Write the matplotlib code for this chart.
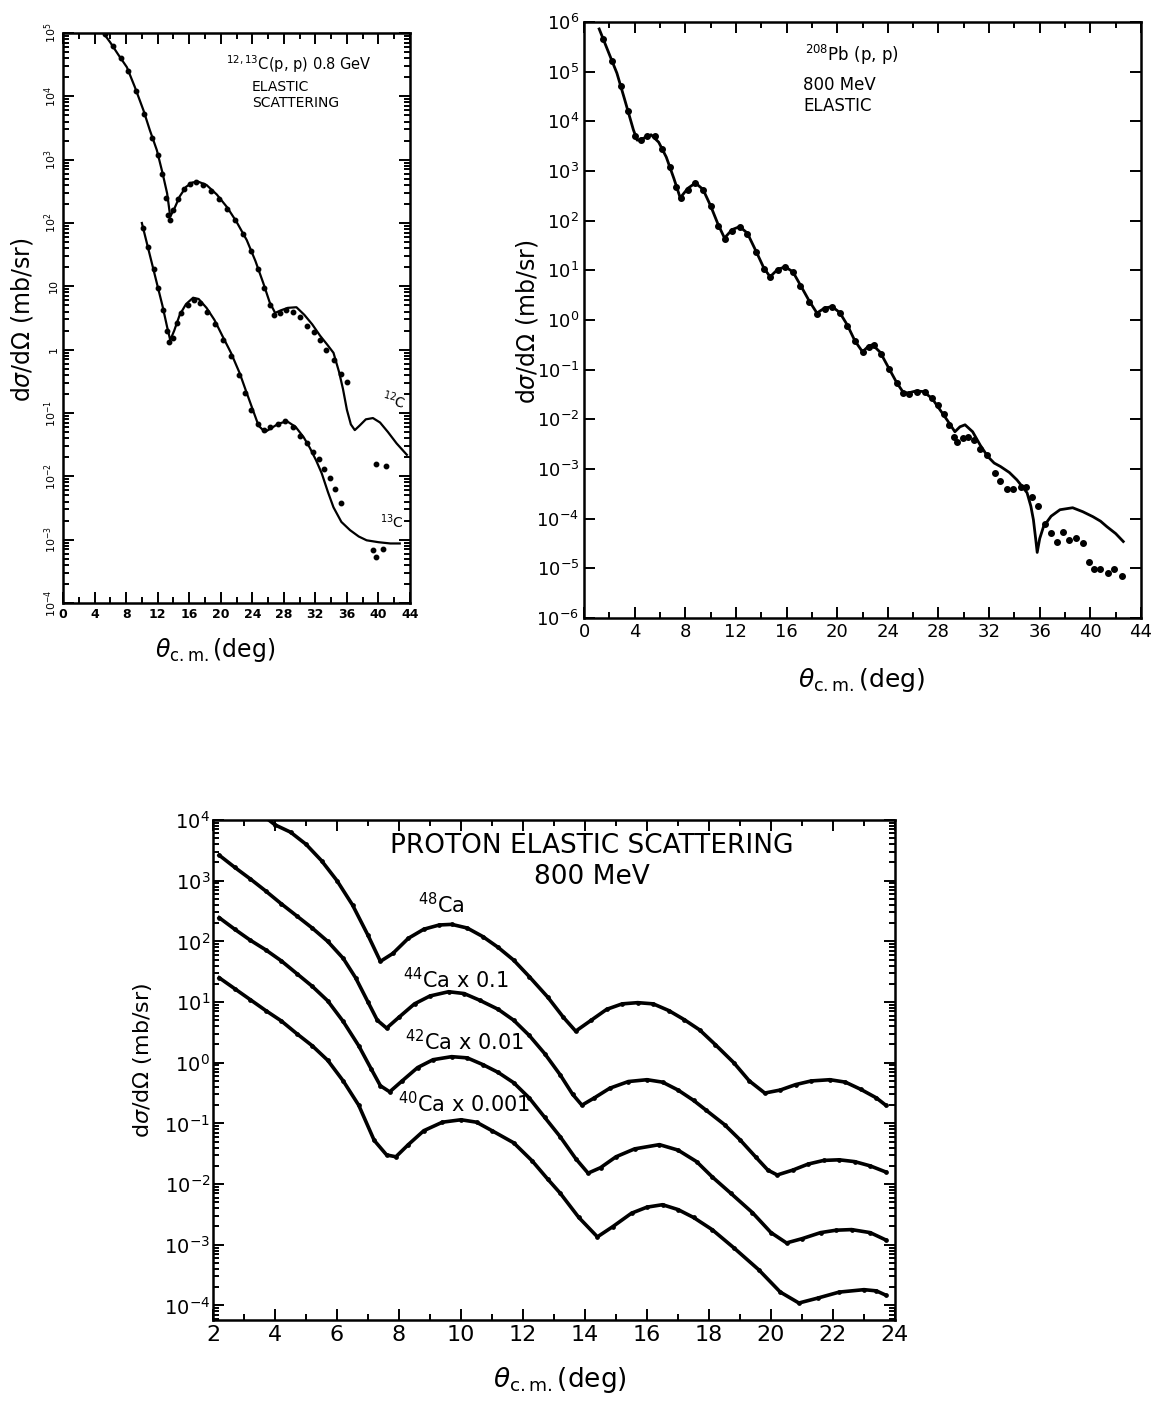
import numpy as np
import matplotlib
matplotlib.use("Agg")
import matplotlib.pyplot as plt
from matplotlib.ticker import LogLocator, NullFormatter, MultipleLocator, FixedLocator

plt.rcParams["font.family"] = ["DejaVu Sans"]
plt.rcParams["mathtext.fontset"] = "dejavusans"

# ---- 12,13C(p,p) 0.8 GeV (log10 of dsigma/dOmega in mb/sr) ----
c12_th_theta = [5.0, 6.0, 7.0, 8.1, 9.1, 10.2, 11.0, 11.9, 12.6, 13.2, 13.6, 14.2, 14.8, 15.6, 16.4,
                17.2, 18.2, 19.5, 20.8, 22.0, 23.3, 24.4, 25.4, 26.2, 26.9, 27.6, 28.5, 29.6, 30.6,
                31.6, 32.6, 33.5, 34.3, 35.0, 35.5, 36.0, 36.5, 37.0, 37.6, 38.4, 39.3, 40.2, 41.2,
                42.3, 43.6]
c12_th_log = [5.02, 4.85, 4.66, 4.46, 4.15, 3.78, 3.47, 3.15, 2.80, 2.47, 2.10, 2.25, 2.42, 2.57, 2.64,
              2.65, 2.60, 2.45, 2.25, 2.02, 1.73, 1.40, 1.05, 0.75, 0.58, 0.62, 0.66, 0.67, 0.55,
              0.40, 0.22, 0.08, -0.05, -0.35, -0.62, -0.95, -1.18, -1.27, -1.20, -1.10, -1.08, -1.15,
              -1.30, -1.48, -1.66]
c12_dat_theta = [5.3, 6.3, 7.3, 8.3, 9.3, 10.3, 11.3, 12.0, 12.6, 13.0, 13.3, 13.6, 14.0, 14.6, 15.3,
                 16.1, 16.9, 17.8, 18.8, 19.8, 20.8, 21.8, 22.8, 23.8, 24.7, 25.5, 26.2, 26.8, 27.5,
                 28.3, 29.2, 30.1, 31.0, 31.8, 32.6, 33.4, 34.3, 35.2, 36.0, 39.7, 41.0]
c12_dat_log = [4.98, 4.80, 4.60, 4.40, 4.08, 3.72, 3.35, 3.08, 2.78, 2.40, 2.12, 2.05, 2.20, 2.38, 2.53,
               2.62, 2.64, 2.60, 2.50, 2.38, 2.22, 2.04, 1.82, 1.56, 1.27, 0.98, 0.70, 0.55, 0.58,
               0.62, 0.60, 0.52, 0.38, 0.28, 0.16, 0.00, -0.17, -0.38, -0.51, -1.80, -1.83]
c13_th_theta = [10.0, 10.6, 11.3, 11.9, 12.6, 13.2, 13.6, 14.1, 14.8, 15.6, 16.5, 17.2, 18.2, 19.2,
                20.2, 21.3, 22.4, 23.2, 24.1, 24.8, 25.6, 26.4, 27.3, 28.4, 29.5, 30.5, 31.3, 32.1,
                32.8, 33.6, 34.3, 35.3, 36.4, 37.5, 38.5, 40.0, 41.5, 42.7]
c13_th_log = [2.00, 1.70, 1.35, 1.05, 0.70, 0.36, 0.15, 0.30, 0.55, 0.72, 0.82, 0.80, 0.66, 0.47,
              0.22, -0.05, -0.37, -0.65, -0.96, -1.20, -1.30, -1.24, -1.17, -1.13, -1.22, -1.38,
              -1.55, -1.75, -1.95, -2.25, -2.49, -2.72, -2.85, -2.95, -3.01, -3.04, -3.06, -3.06]
c13_dat_theta = [10.2, 10.8, 11.5, 12.1, 12.7, 13.2, 13.5, 13.9, 14.4, 15.0, 15.8, 16.6, 17.4, 18.3,
                 19.3, 20.3, 21.3, 22.3, 23.1, 23.9, 24.7, 25.5, 26.3, 27.2, 28.2, 29.2, 30.1, 30.9,
                 31.7, 32.4, 33.1, 33.8, 34.5, 35.3, 39.3, 39.7, 40.6]
c13_dat_log = [1.92, 1.62, 1.28, 0.98, 0.62, 0.30, 0.12, 0.18, 0.42, 0.58, 0.70, 0.78, 0.74, 0.60,
               0.40, 0.15, -0.10, -0.40, -0.68, -0.95, -1.18, -1.27, -1.22, -1.17, -1.13, -1.22,
               -1.36, -1.48, -1.62, -1.72, -1.88, -2.02, -2.20, -2.42, -3.17, -3.28, -3.14]
c_yticks = [-4, -3, -2, -1, 0, 1, 2, 3, 4, 5]
c_yticklabels = ["10$^{-4}$", "10$^{-3}$", "10$^{-2}$", "10$^{-1}$", "1", "10",
                 "10$^{2}$", "10$^{3}$", "10$^{4}$", "10$^{5}$"]

# ---- 208Pb(p,p) 800 MeV ----
pb_th_theta = [1.2, 2.0, 2.6, 3.2, 3.9, 4.2, 4.7, 5.3, 5.9, 6.5, 7.1, 7.6, 8.2, 8.8, 9.4, 10.0, 10.6,
               11.1, 11.7, 12.3, 12.9, 13.6, 14.2, 14.7, 15.3, 15.9, 16.5, 17.1, 17.8, 18.4, 19.0,
               19.6, 20.2, 20.8, 21.4, 22.0, 22.5, 22.8, 23.4, 24.1, 24.7, 25.2, 25.6, 26.2, 26.8,
               27.5, 28.1, 28.7, 29.3, 29.7, 30.1, 30.7, 31.3, 31.9, 32.4, 32.9, 33.6, 34.2, 34.7,
               35.0, 35.3, 35.5, 35.7, 35.8, 36.0, 36.3, 36.9, 37.6, 38.6, 39.4, 40.2, 40.8, 41.3,
               42.0, 42.6]
pb_th_log = [5.86, 5.35, 4.97, 4.45, 3.83, 3.62, 3.66, 3.73, 3.58, 3.28, 2.85, 2.46, 2.65, 2.76, 2.63,
             2.30, 1.92, 1.65, 1.82, 1.88, 1.75, 1.38, 1.05, 0.87, 1.02, 1.07, 0.97, 0.70, 0.38, 0.14,
             0.24, 0.27, 0.15, -0.10, -0.42, -0.64, -0.52, -0.50, -0.65, -0.98, -1.26, -1.45, -1.47,
             -1.43, -1.44, -1.58, -1.80, -2.02, -2.25, -2.15, -2.11, -2.25, -2.52, -2.75, -2.88,
             -2.95, -3.07, -3.22, -3.38, -3.48, -3.75, -4.02, -4.45, -4.68, -4.40, -4.16, -3.95,
             -3.82, -3.78, -3.86, -3.96, -4.05, -4.16, -4.30, -4.46]
pb_dat_theta = [1.5, 2.2, 2.9, 3.5, 4.0, 4.5, 5.0, 5.6, 6.2, 6.8, 7.3, 7.7, 8.2, 8.8, 9.4, 10.0, 10.6,
                11.1, 11.7, 12.3, 12.9, 13.6, 14.2, 14.7, 15.3, 15.9, 16.5, 17.1, 17.8, 18.4, 19.0,
                19.6, 20.2, 20.8, 21.4, 22.0, 22.5, 22.9, 23.5, 24.1, 24.7, 25.2, 25.7, 26.3, 26.9,
                27.5, 28.0, 28.4, 28.8, 29.2, 29.5, 29.9, 30.3, 30.8, 31.3, 31.8, 32.5, 32.9, 33.4,
                33.9, 34.5, 34.9, 35.4, 35.9, 36.4, 36.9, 37.4, 37.8, 38.3, 38.9, 39.4, 39.9, 40.3,
                40.8, 41.4, 41.9, 42.5]
pb_dat_log = [5.65, 5.22, 4.72, 4.20, 3.70, 3.62, 3.70, 3.70, 3.45, 3.08, 2.68, 2.45, 2.62, 2.75, 2.62,
              2.30, 1.90, 1.64, 1.80, 1.87, 1.74, 1.36, 1.03, 0.86, 1.00, 1.06, 0.96, 0.69, 0.36,
              0.12, 0.22, 0.26, 0.14, -0.12, -0.43, -0.65, -0.54, -0.51, -0.68, -0.98, -1.27, -1.46,
              -1.48, -1.44, -1.45, -1.58, -1.71, -1.90, -2.12, -2.35, -2.45, -2.37, -2.35, -2.42,
              -2.60, -2.72, -3.08, -3.25, -3.40, -3.40, -3.36, -3.36, -3.56, -3.74, -4.10, -4.28,
              -4.47, -4.26, -4.42, -4.38, -4.48, -4.87, -5.01, -5.01, -5.09, -5.01, -5.15]

# ---- Ca isotopes, 800 MeV ----
ca48_theta = [3.6, 4.0, 4.5, 5.0, 5.5, 6.0, 6.5, 7.0, 7.4, 7.8, 8.3, 8.8, 9.3, 9.7, 10.2, 10.7, 11.2,
              11.7, 12.2, 12.8, 13.3, 13.7, 14.2, 14.7, 15.2, 15.7, 16.2, 16.7, 17.2, 17.7, 18.2,
              18.8, 19.3, 19.8, 20.3, 20.8, 21.3, 21.9, 22.4, 22.9, 23.4, 23.7]
ca48_log = [4.08, 3.92, 3.80, 3.60, 3.33, 3.00, 2.60, 2.10, 1.67, 1.80, 2.05, 2.20, 2.27, 2.28, 2.22,
            2.08, 1.90, 1.69, 1.42, 1.08, 0.75, 0.52, 0.70, 0.88, 0.97, 0.99, 0.97, 0.86, 0.71, 0.54,
            0.30, 0.00, -0.30, -0.50, -0.45, -0.36, -0.30, -0.28, -0.32, -0.44, -0.58, -0.70]
ca44_theta = [2.2, 2.7, 3.2, 3.7, 4.2, 4.7, 5.2, 5.7, 6.2, 6.6, 7.0, 7.3, 7.6, 8.0, 8.5, 9.0, 9.6,
              10.1, 10.6, 11.2, 11.7, 12.2, 12.7, 13.2, 13.6, 13.9, 14.3, 14.8, 15.4, 16.0, 16.5,
              17.0, 17.5, 17.9, 18.5, 19.0, 19.5, 19.9, 20.2, 20.7, 21.2, 21.7, 22.2, 22.7, 23.2, 23.7]
ca44_log = [3.42, 3.22, 3.03, 2.83, 2.62, 2.42, 2.22, 2.00, 1.72, 1.40, 1.00, 0.70, 0.57, 0.75, 0.97,
            1.10, 1.17, 1.14, 1.03, 0.88, 0.70, 0.45, 0.15, -0.20, -0.52, -0.70, -0.58, -0.42, -0.31,
            -0.28, -0.32, -0.45, -0.62, -0.78, -1.02, -1.27, -1.55, -1.77, -1.85, -1.77, -1.67,
            -1.61, -1.60, -1.63, -1.70, -1.80]
ca42_theta = [2.2, 2.7, 3.2, 3.7, 4.2, 4.7, 5.2, 5.7, 6.2, 6.7, 7.1, 7.4, 7.7, 8.1, 8.6, 9.1, 9.7,
              10.2, 10.7, 11.2, 11.7, 12.2, 12.7, 13.2, 13.7, 14.1, 14.5, 15.0, 15.6, 16.4, 17.0,
              17.6, 18.1, 18.7, 19.4, 20.0, 20.5, 21.0, 21.6, 22.1, 22.6, 23.2, 23.7]
ca42_log = [2.39, 2.20, 2.02, 1.86, 1.68, 1.47, 1.26, 1.02, 0.68, 0.28, -0.10, -0.38, -0.48, -0.30,
            -0.08, 0.05, 0.10, 0.08, -0.03, -0.16, -0.33, -0.58, -0.90, -1.22, -1.58, -1.82, -1.73,
            -1.55, -1.42, -1.35, -1.44, -1.63, -1.88, -2.15, -2.47, -2.80, -2.97, -2.90, -2.80,
            -2.76, -2.75, -2.80, -2.92]
ca40_theta = [2.2, 2.7, 3.2, 3.7, 4.2, 4.7, 5.2, 5.7, 6.2, 6.7, 7.2, 7.6, 7.9, 8.3, 8.8, 9.4, 10.0,
              10.5, 11.0, 11.7, 12.3, 12.8, 13.2, 13.8, 14.4, 14.9, 15.5, 16.0, 16.5, 17.0, 17.5,
              18.1, 18.8, 19.6, 20.3, 20.9, 21.5, 22.2, 23.0, 23.4, 23.7]
ca40_log = [1.40, 1.22, 1.04, 0.86, 0.69, 0.48, 0.28, 0.04, -0.30, -0.70, -1.28, -1.52, -1.55, -1.35,
            -1.12, -0.98, -0.94, -0.98, -1.12, -1.32, -1.62, -1.92, -2.15, -2.55, -2.87, -2.70,
            -2.48, -2.38, -2.34, -2.42, -2.55, -2.75, -3.05, -3.41, -3.78, -3.96, -3.88, -3.78,
            -3.74, -3.76, -3.83]
ca_names = ["$^{48}$Ca", "$^{44}$Ca x 0.1", "$^{42}$Ca x 0.01", "$^{40}$Ca x 0.001"]

W, H = 1156, 1402
fig = plt.figure(figsize=(W / 100, H / 100), dpi=100)


def box(l, t, r, b):
    return [l / W, 1 - b / H, (r - l) / W, (b - t) / H]


def P(x, y):
    return x / W, 1 - y / H


def style_axes(ax, lw=1.8):
    for s in ax.spines.values():
        s.set_linewidth(lw)
    ax.tick_params(which="both", direction="in", top=True, right=True, width=1.4)
    ax.tick_params(which="major", length=8)
    ax.tick_params(which="minor", length=4)


ylab = r"d$\sigma$/d$\Omega$ (mb/sr)"
xlab = r"$\theta_{\mathrm{c.m.}}$(deg)"

# ---------------- top left: carbon ----------------
ax1 = fig.add_axes(box(63, 33, 410, 603))
ax1.set_yscale("log")
ax1.plot(c12_th_theta, 10 ** np.array(c12_th_log), color="black", lw=1.6)
ax1.plot(c12_dat_theta, 10 ** np.array(c12_dat_log), "o", color="black", ms=3.2)
ax1.plot(c13_th_theta, 10 ** np.array(c13_th_log), color="black", lw=1.6)
ax1.plot(c13_dat_theta, 10 ** np.array(c13_dat_log), "o", color="black", ms=3.2)
ax1.set_xlim(0, 44)
ax1.set_ylim(1e-4, 1e5)
ax1.xaxis.set_major_locator(MultipleLocator(4))
ax1.xaxis.set_minor_locator(MultipleLocator(2))
ax1.set_yticks([10.0 ** k for k in c_yticks])
ax1.set_yticklabels(c_yticklabels, rotation=90, va="center", fontsize=8)
ax1.yaxis.set_minor_locator(LogLocator(base=10, subs=np.arange(2, 10), numticks=20))
ax1.yaxis.set_minor_formatter(NullFormatter())
style_axes(ax1)
for lbl in ax1.get_xticklabels():
    lbl.set_fontsize(9)
    lbl.set_fontweight("bold")
ax1.tick_params(axis="y", which="major", pad=3)
fig.text(*P(22, 320), ylab, rotation=90, ha="center", va="center", fontsize=17)
fig.text(*P(215, 650), xlab, ha="center", va="center", fontsize=17)
fig.text(*P(226, 64), "$^{12,13}$C(p, p) 0.8 GeV", ha="left", va="center", fontsize=10.5)
fig.text(*P(252, 87), "ELASTIC", ha="left", va="center", fontsize=10)
fig.text(*P(252, 103), "SCATTERING", ha="left", va="center", fontsize=10)
fig.text(*P(394, 400), "$^{12}$C", ha="center", va="center", fontsize=10, rotation=-15)
fig.text(*P(392, 522), "$^{13}$C", ha="center", va="center", fontsize=10)

# ---------------- top right: lead ----------------
ax2 = fig.add_axes(box(584, 22, 1141, 618))
ax2.set_yscale("log")
ax2.plot(pb_th_theta, 10 ** np.array(pb_th_log), color="black", lw=2.0)
ax2.plot(pb_dat_theta, 10 ** np.array(pb_dat_log), "o", color="black", ms=4)
ax2.set_xlim(0, 44)
ax2.set_ylim(1e-6, 1e6)
ax2.xaxis.set_major_locator(MultipleLocator(4))
ax2.xaxis.set_minor_locator(MultipleLocator(2))
ax2.set_yticks([10.0 ** k for k in range(-6, 7)])
ax2.set_yticklabels(["$10^{%d}$" % k for k in range(-6, 7)], fontsize=13)
ax2.yaxis.set_minor_locator(FixedLocator([]))
style_axes(ax2)
for lbl in ax2.get_xticklabels():
    lbl.set_fontsize(13)
fig.text(*P(527, 322), ylab, rotation=90, ha="center", va="center", fontsize=17)
fig.text(*P(862, 680), xlab, ha="center", va="center", fontsize=18)
fig.text(*P(805, 55), "$^{208}$Pb (p, p)", ha="left", va="center", fontsize=12)
fig.text(*P(803, 85), "800 MeV", ha="left", va="center", fontsize=12)
fig.text(*P(803, 106), "ELASTIC", ha="left", va="center", fontsize=12)

# ---------------- bottom: calcium ----------------
ax3 = fig.add_axes(box(213, 820, 895, 1320))
ax3.set_yscale("log")
for th, lg in [(ca48_theta, ca48_log), (ca44_theta, ca44_log),
               (ca42_theta, ca42_log), (ca40_theta, ca40_log)]:
    ax3.plot(th, 10 ** np.array(lg), color="black", lw=2.6)
    ax3.plot(th, 10 ** np.array(lg), "o", color="black", ms=2.4)
ax3.set_xlim(2, 24)
ax3.set_ylim(10 ** -4.24, 1e4)
ax3.xaxis.set_major_locator(MultipleLocator(2))
ax3.xaxis.set_minor_locator(MultipleLocator(1))
ax3.set_yticks([10.0 ** k for k in range(-4, 5)])
ax3.set_yticklabels(["$10^{%d}$" % k for k in range(-4, 5)], fontsize=14)
ax3.yaxis.set_minor_locator(LogLocator(base=10, subs=np.arange(2, 10), numticks=20))
ax3.yaxis.set_minor_formatter(NullFormatter())
style_axes(ax3)
ax3.tick_params(axis="y", which="major", pad=2)
for lbl in ax3.get_xticklabels():
    lbl.set_fontsize(16)
fig.text(*P(143, 1060), ylab, rotation=90, ha="center", va="center", fontsize=16)
fig.text(*P(560, 1380), xlab, ha="center", va="center", fontsize=19)
fig.text(*P(592, 846), "PROTON ELASTIC SCATTERING", ha="center", va="center", fontsize=19)
fig.text(*P(592, 877), "800 MeV", ha="center", va="center", fontsize=19)
label_pos = [(418, 905), (403, 980), (405, 1042), (398, 1104)]
for name, (x, y) in zip(ca_names, label_pos):
    fig.text(*P(x, y), name, ha="left", va="center", fontsize=15)

fig.savefig("out.png", dpi=100)
